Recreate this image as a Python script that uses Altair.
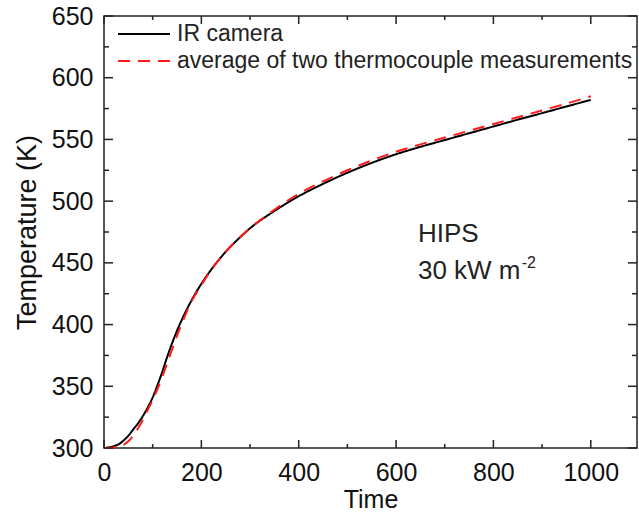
import altair as alt
import pandas as pd

# ---- data ----
series_names = ["IR camera", "average of two thermocouple measurements"]

time_ir = [0, 10, 20, 30, 40, 50, 60, 70, 80, 90, 100, 110, 120, 130, 140, 150, 160,
           175, 200, 225, 250, 275, 300, 350, 400, 450, 500, 550, 600, 650, 700,
           750, 800, 850, 900, 950, 1000]
temp_ir = [300, 300.5, 301.5, 303, 306, 310, 315, 320, 326, 333, 341, 351, 362, 374,
           385, 395, 404, 416, 433, 447, 459, 469, 478, 492, 504, 514, 523, 531, 538,
           544, 549.5, 555, 560.5, 566, 571.3, 576.7, 582]

time_tc = [0, 20, 40, 50, 60, 70, 80, 90, 100, 110, 120, 130, 140, 150, 160, 175, 200,
           225, 250, 275, 300, 350, 400, 450, 500, 550, 600, 650, 700, 750, 800, 850,
           900, 950, 1000]
temp_tc = [300, 300.5, 302.5, 305.5, 310, 316, 323, 331, 339, 348, 358, 369, 380, 391,
           401, 415, 432, 447, 459, 469, 478, 493, 506, 516, 525, 533, 540, 546, 551.5,
           557, 562.5, 568, 573.5, 579, 585]

x_major = [0, 200, 400, 600, 800, 1000]
x_minor = [100, 300, 500, 700, 900]
y_major = [300, 350, 400, 450, 500, 550, 600, 650]
y_minor = [325, 375, 425, 475, 525, 575, 625]

ann_text = ["HIPS", "30 kW m"]
ann_x = [645, 645]
ann_y = [467, 437.3]
sup_text = ["-2"]
sup_x = [858]
sup_y = [445.5]

# ---- layout ----
W, H = 533, 432
XMAX = 1095
FONT = "Liberation Sans"
FRAME = "#222222"

df = pd.concat([
    pd.DataFrame({"time": time_ir, "temp": temp_ir, "series": series_names[0], "k": 0}),
    pd.DataFrame({"time": time_tc, "temp": temp_tc, "series": series_names[1], "k": 1}),
])

xs = alt.Scale(domain=[0, XMAX], nice=False, zero=False)
ys = alt.Scale(domain=[300, 650], nice=False, zero=False)
xaxis = alt.Axis(values=x_major, title="Time", labelPadding=12, titlePadding=2,
                 titleFontSize=25, labelFontSize=25, format="d", labelFlush=False)
yaxis = alt.Axis(values=y_major, title="Temperature (K)", labelPadding=11,
                 titlePadding=10, titleFontSize=27, labelFontSize=25, format="d",
                 labelFlush=False)

leg = alt.Legend(title=None, orient="none", legendX=13, legendY=4.5,
                 symbolSize=2700, symbolType="stroke", symbolStrokeWidth=2,
                 clipHeight=27, rowPadding=0, labelOffset=6, labelFontSize=23,
                 labelFont=FONT, labelColor="#222222", padding=0, labelLimit=600)

lines = alt.Chart(df).mark_line(strokeWidth=2, interpolate="monotone").encode(
    x=alt.X("time:Q", scale=xs, axis=xaxis),
    y=alt.Y("temp:Q", scale=ys, axis=yaxis),
    color=alt.Color("series:N",
                    scale=alt.Scale(domain=series_names, range=["#000000", "#ff1a1a"]),
                    legend=leg),
    strokeDash=alt.StrokeDash("series:N",
                              scale=alt.Scale(domain=series_names, range=[[1, 0], [12, 8]]),
                              legend=leg),
    order=alt.Order("time:Q"),
    detail="k:N",
)

def xticks(vals, length, top):
    base = alt.Chart(pd.DataFrame({"t": vals})).mark_rule(color=FRAME, strokeWidth=1.5)
    if top:
        return base.encode(x=alt.X("t:Q", scale=xs, axis=xaxis), y=alt.value(0), y2=alt.value(length))
    return base.encode(x=alt.X("t:Q", scale=xs, axis=xaxis), y=alt.value(H), y2=alt.value(H - length))

def yticks(vals, length, right):
    base = alt.Chart(pd.DataFrame({"t": vals})).mark_rule(color=FRAME, strokeWidth=1.5)
    if right:
        return base.encode(y=alt.Y("t:Q", scale=ys, axis=yaxis), x=alt.value(W), x2=alt.value(W - length))
    return base.encode(y=alt.Y("t:Q", scale=ys, axis=yaxis), x=alt.value(0), x2=alt.value(length))

ticks = [
    xticks(x_major, 8, False), xticks(x_minor, 4, False),
    xticks(x_major, 8, True), xticks(x_minor, 4, True),
    yticks(y_major, 9, False), yticks(y_minor, 5, False),
    yticks(y_major, 9, True), yticks(y_minor, 5, True),
]

ann = alt.Chart(pd.DataFrame({"x": ann_x, "y": ann_y, "t": ann_text})).mark_text(
    align="left", baseline="alphabetic", fontSize=26, font=FONT, color="#222222"
).encode(x=alt.X("x:Q", scale=xs, axis=xaxis), y=alt.Y("y:Q", scale=ys, axis=yaxis), text="t:N")

sup = alt.Chart(pd.DataFrame({"x": sup_x, "y": sup_y, "t": sup_text})).mark_text(
    align="left", baseline="alphabetic", fontSize=16, font=FONT, color="#222222"
).encode(x=alt.X("x:Q", scale=xs, axis=xaxis), y=alt.Y("y:Q", scale=ys, axis=yaxis), text="t:N")

chart = alt.layer(lines, *ticks, ann, sup).properties(
    width=W, height=H,
    autosize=alt.AutoSizeParams(type="none"),
    padding={"left": 104, "top": 16, "right": 2, "bottom": 66},
    background="white",
).configure_view(
    stroke=FRAME, strokeWidth=1.5
).configure_axis(
    domain=False, ticks=False, grid=False,
    labelFont=FONT, titleFont=FONT, labelColor="#111111", titleColor="#111111",
    titleFontWeight="normal",
)

chart.save("out.html", embed_options={"renderer": "svg", "actions": False})
